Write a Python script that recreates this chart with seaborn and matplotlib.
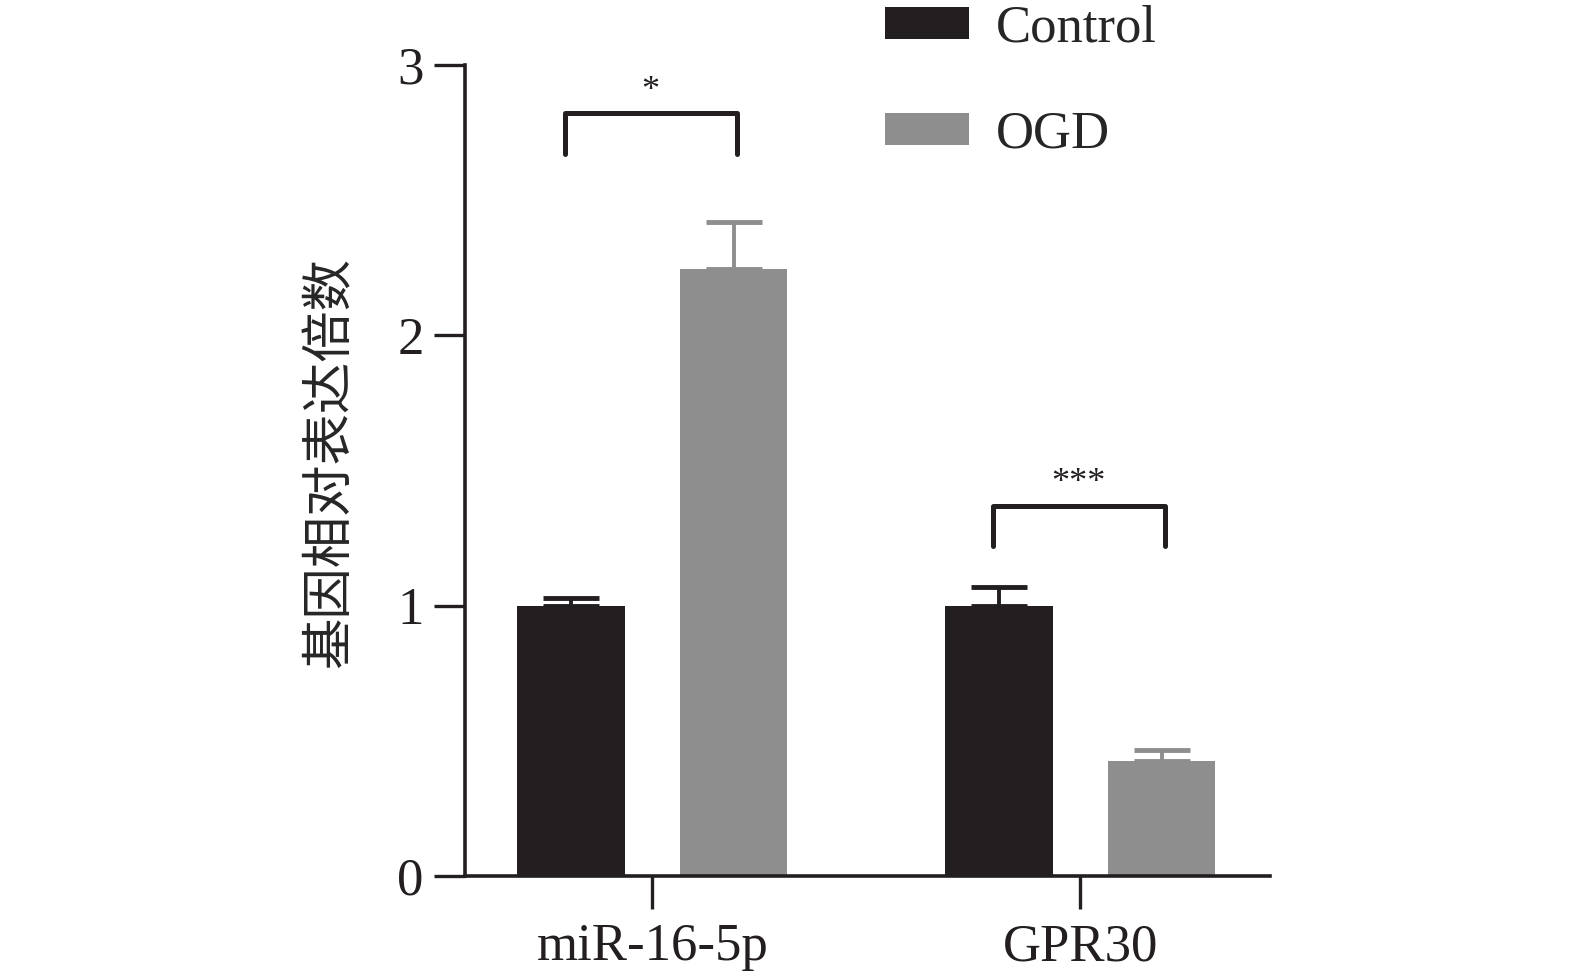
import pandas as pd
import matplotlib
matplotlib.use('Agg')
import matplotlib.pyplot as plt
import seaborn as sns

# data
genes = ['miR-16-5p', 'GPR30']
groups = ['Control', 'OGD']
control_mean = [1.0, 1.0]
control_err = [0.03, 0.07]
ogd_mean = [2.245, 0.425]
ogd_err = [0.175, 0.04]
sig_labels = ['*', '***']
sig_top = [2.82, 1.37]
sig_drop = [0.15, 0.15]

colors = {'Control': '#231f20', 'OGD': '#8f8e8f'}

df = pd.DataFrame({
    'gene': genes * 2,
    'group': [groups[0]] * 2 + [groups[1]] * 2,
    'value': control_mean + ogd_mean,
    'err': control_err + ogd_err,
})

sns.set_style('ticks')
plt.rcParams['font.family'] = ['Liberation Serif', 'Noto Sans CJK SC']

fig = plt.figure(figsize=(15.75, 9.8), dpi=100)
ax = fig.add_axes([0.2955, 0.106, 0.511, 0.828])

sns.barplot(data=df, x='gene', y='value', hue='group', hue_order=groups,
            palette=colors, saturation=1, width=0.76, gap=0.34,
            linewidth=0, errorbar=None, ax=ax)

# upward-only error bars, one per bar
for patch_group, grp in zip(ax.containers, groups):
    sub = df[df['group'] == grp]
    for patch, (_, row) in zip(patch_group, sub.iterrows()):
        xc = patch.get_x() + patch.get_width() / 2
        ax.errorbar(xc, row['value'], yerr=[[0], [row['err']]], fmt='none',
                    ecolor=colors[grp], elinewidth=2.8, capsize=20,
                    capthick=3.5, zorder=1)

# significance brackets
for i, (lab, top, drop) in enumerate(zip(sig_labels, sig_top, sig_drop)):
    x0, x1 = i - 0.205, i + 0.197
    ax.plot([x0, x0, x1, x1], [top - drop, top, top, top - drop],
            color='#231f20', lw=3.6, solid_capstyle='round', clip_on=False)
    ax.text((x0 + x1) / 2, top + 0.02, lab, ha='center', va='bottom',
            fontsize=26, color='#231f20')

handles, labels = ax.get_legend_handles_labels()
ax.get_legend().remove()
fig.legend(handles, labels, loc='upper left', bbox_to_anchor=(885 / 1575, 0.995),
           frameon=False, fontsize=38, handlelength=1.6, handleheight=0.56,
           handletextpad=0.5, labelspacing=1.1, borderpad=0, borderaxespad=0)

ax.set_xlim(-0.437, 1.444)
ax.set_ylim(0, 3)
ax.set_yticks([0, 1, 2, 3])
ax.set_yticklabels(['0', '1', '2', '3'])
ax.set_xlabel('')
ax.set_ylabel('基因相对表达倍数', fontsize=37, family=['Noto Sans CJK SC'])
ax.yaxis.set_label_coords(-0.135, 0.51)

sns.despine(ax=ax)
for side in ['left', 'bottom']:
    ax.spines[side].set_linewidth(2.6)
    ax.spines[side].set_color('#231f20')
ax.tick_params(axis='y', length=22, width=2.4, pad=8, labelsize=38, colors='#231f20')
ax.tick_params(axis='x', length=24, width=2.4, pad=10, labelsize=38, colors='#231f20')

fig.savefig('out.png', dpi=100)
